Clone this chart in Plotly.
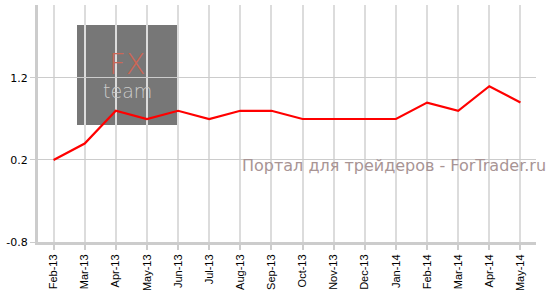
import plotly.graph_objects as go

months = ["Feb-13", "Mar-13", "Apr-13", "May-13", "Jun-13", "Jul-13", "Aug-13", "Sep-13",
          "Oct-13", "Nov-13", "Dec-13", "Jan-14", "Feb-14", "Mar-14", "Apr-14", "May-14"]
values = [0.2, 0.4, 0.8, 0.7, 0.8, 0.7, 0.8, 0.8, 0.7, 0.7, 0.7, 0.7, 0.9, 0.8, 1.1, 0.9]
y_ticks = [-0.8, 0.2, 1.2]
y_tick_labels = ["-0.8", "0.2", "1.2"]

fig = go.Figure()
fig.add_trace(go.Scatter(x=list(range(len(months))), y=values, mode="lines",
                         line=dict(color="#ff0000", width=2.2), hoverinfo="skip"))

fig.update_layout(
    width=553, height=308,
    margin=dict(l=38, r=17, t=5, b=66),
    plot_bgcolor="white", paper_bgcolor="white",
    showlegend=False,
    xaxis=dict(
        range=[-0.5, 15.5],
        tickmode="array", tickvals=list(range(len(months))), ticktext=months,
        tickangle=-90,
        tickfont=dict(family="Liberation Sans, Arial", size=11, color="#000"),
        showgrid=True, gridcolor="#dcdcdc", gridwidth=1.6,
        showline=True, linecolor="#cccccc", linewidth=3,
        ticks="outside", ticklen=5, tickcolor="#cccccc", tickwidth=1.5,
        zeroline=False, fixedrange=True,
    ),
    yaxis=dict(
        range=[-0.8, 2.09],
        tickmode="array", tickvals=y_ticks, ticktext=y_tick_labels,
        tickfont=dict(family="DejaVu Sans, Verdana", size=11, color="#000"),
        showgrid=True, gridcolor="#cccccc", gridwidth=1,
        showline=True, linecolor="#cccccc", linewidth=3,
        ticks="outside", ticklen=5, tickcolor="#cccccc", tickwidth=1,
        zeroline=False, fixedrange=True,
    ),
)

# logo box
fig.add_shape(type="rect", xref="paper", yref="paper",
              x0=(77 - 38) / 498, x1=(177 - 38) / 498,
              y0=(242 - 125) / 237, y1=(242 - 25) / 237,
              fillcolor="#777777", line=dict(width=0), layer="below")
fig.add_annotation(xref="paper", yref="paper", x=(127 - 38) / 498, y=(242 - 64) / 237,
                   xanchor="center", yanchor="middle",
                   text="FX", showarrow=False,
                   font=dict(family="DejaVu Sans", size=29, weight=200, color="#cc6655"))
fig.add_annotation(xref="paper", yref="paper", x=(127 - 38) / 498, y=(242 - 91) / 237,
                   xanchor="center", yanchor="middle",
                   text="team", showarrow=False,
                   font=dict(family="DejaVu Sans", size=19, weight=200, color="#cccccc"))

# watermark
fig.add_annotation(xref="paper", yref="paper", x=(548 - 38) / 498, xanchor="right",
                   y=(242 - 165) / 237, yanchor="middle",
                   text="Портал для трейдеров - ForTrader.ru",
                   showarrow=False,
                   font=dict(family="DejaVu Sans, Verdana", size=16, color="#a89494"))

fig.write_html("out.html")
